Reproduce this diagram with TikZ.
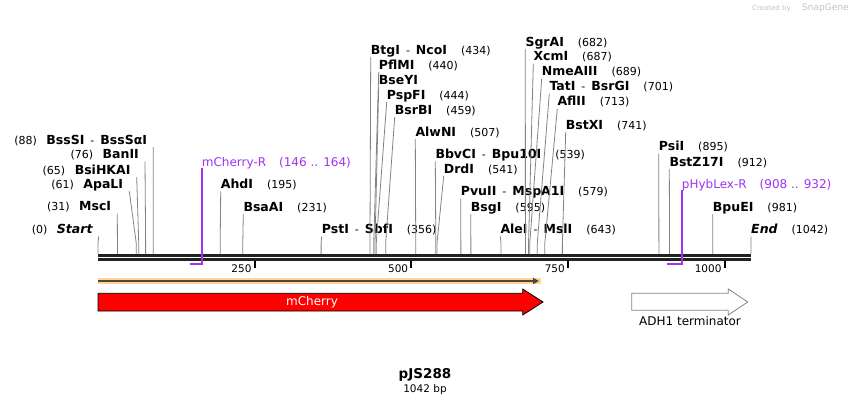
\documentclass[tikz,border=0pt]{standalone}
\usepackage{fontspec}
\setmainfont{DejaVu Sans}
\usetikzlibrary{calc,arrows.meta}

\definecolor{cutgray}{RGB}{130,130,130}
\definecolor{primerpurple}{RGB}{160,50,240}
\definecolor{bbone}{RGB}{34,34,34}
\definecolor{orfband}{RGB}{253,214,150}
\definecolor{orfline}{RGB}{80,70,60}
\definecolor{marklight}{RGB}{195,195,195}

\newcommand{\enzn}[1]{{\fontsize{12.5}{13}\selectfont\bfseries #1}}
\newcommand{\gp}{\hspace{14pt}}
\newcommand{\gl}{\hspace{9.5pt}}
\newcommand{\dsh}{\hspace{6pt}-\hspace{6pt}}

\tikzset{
  enz/.style={font=\fontsize{11}{12}\selectfont, inner sep=0pt, anchor=base west},
  cut/.style={draw=cutgray, line width=0.8pt},
  primer/.style={font=\fontsize{12}{12}\selectfont, text=primerpurple, inner sep=0pt, anchor=base west},
  primerline/.style={draw=primerpurple, line width=1.7pt},
  bb/.style={draw=bbone, line width=2.7pt},
  tick/.style={draw=black, line width=2pt},
  ticklab/.style={font=\fontsize{10.5}{11}\selectfont, inner sep=0pt, anchor=base east},
  featlab/.style={font=\fontsize{12}{12}\selectfont, inner sep=0pt}
}

\begin{document}
\begin{tikzpicture}[x=1pt,y=-1pt]
\useasboundingbox (0,0) rectangle (850,404);

% backbone
\draw[bb] (98,255.3) -- (751,255.3);
\draw[bb] (98,259.3) -- (751,259.3);
\foreach \t in {250,500,750,1000} {
  \coordinate (t\t) at ({98+0.6267*\t},261);
  \draw[tick] (t\t) -- ++(0,7);
  \node[ticklab] (tl\t) at ($(t\t)+(-3,11)$) {\t};
}

% sites, labels on the right of their line
\foreach \nm/\bp/\lx/\ly/\lab in {
  ahd/195/220.7/188.3/{\enzn{AhdI}\gp(195)},
  bsaa/231/243.3/211/{\enzn{BsaAI}\gp(231)},
  pst/356/321.7/233.3/{\enzn{PstI}\dsh\enzn{SbfI}\gp(356)},
  btg/434/370.7/54/{\enzn{BtgI}\dsh\enzn{NcoI}\gp(434)},
  pflm/440/378.7/69/{\enzn{PflMI}\gp(440)},
  bsey/442/378.7/84/{\enzn{BseYI}},
  pspf/444/386.7/99/{\enzn{PspFI}\gp(444)},
  bsrb/459/394.7/114/{\enzn{BsrBI}\gp(459)},
  alwn/507/415.3/136/{\enzn{AlwNI}\gp(507)},
  bbvc/539/435.3/158.3/{\enzn{BbvCI}\dsh\enzn{Bpu10I}\gp(539)},
  drd/541/443.7/173/{\enzn{DrdI}\gp(541)},
  pvu/579/460.7/195.7/{\enzn{PvuII}\dsh\enzn{MspA1I}\gp(579)},
  bsg/595/470.7/211/{\enzn{BsgI}\gp(595)},
  ale/643/500.3/233.3/{\enzn{AleI}\dsh\enzn{MslI}\gp(643)},
  sgra/682/525.3/46/{\enzn{SgrAI}\gp(682)},
  xcm/687/533.3/60.7/{\enzn{XcmI}\gp(687)},
  nmea/689/541.7/75.7/{\enzn{NmeAIII}\gp(689)},
  tat/701/549.3/90.7/{\enzn{TatI}\dsh\enzn{BsrGI}\gp(701)},
  afl/713/557.3/105.7/{\enzn{AflII}\gp(713)},
  bstx/741/565.7/129/{\enzn{BstXI}\gp(741)},
  psi/895/658.7/150.5/{\enzn{PsiI}\gp(895)},
  bstz/912/669.3/166/{\enzn{BstZ17I}\gp(912)},
  bpue/981/712.7/211/{\enzn{BpuEI}\gp(981)},
  fin/1042/751/233.3/{\enzn{\itshape End}\gp(1042)}} {
  \node[enz] (\nm) at (\lx,\ly) {\lab};
  \coordinate (\nm-p) at ({98+0.6267*\bp},254);
  \draw[cut] ($(\nm.base west)+(0,3)$) -- ($(\nm-p)+(0,-11)$) -- (\nm-p);
}

% sites, labels on the left of their line
\foreach \nm/\bp/\lx/\ly/\lab in {
  start/0/98.7/233.3/{(0)\gl\enzn{\itshape Start}},
  msc/31/117.3/210.7/{(31)\gl\enzn{MscI}},
  apal/61/129.3/188.3/{(61)\gl\enzn{ApaLI}},
  bsihk/65/136.7/174/{(65)\gl\enzn{BsiHKAI}},
  ban/76/145/158.3/{(76)\gl\enzn{BanII}},
  bsss/88/153.3/144/{(88)\gl\enzn{BssSI}\dsh\enzn{BssSαI}}} {
  \node[enz, anchor=base east] (\nm) at ({\lx-6},\ly) {\lab};
  \coordinate (\nm-p) at ({98+0.6267*\bp},254);
  \draw[cut] ($(\nm.base east)+(6,3)$) -- ($(\nm-p)+(0,-11)$) -- (\nm-p);
}

% primers
\node[primer] (mchR) at (201.7,166) {mCherry-R\hspace{13pt}(146 .. 164)};
\coordinate (mchR-a) at ({98+0.6267*146},264);
\draw[primerline] ($(mchR.base west)+(0,2)$) |- (mchR-a);
\node[primer] (hybR) at (681.7,188.3) {pHybLex-R\hspace{13pt}(908 .. 932)};
\coordinate (hybR-a) at ({98+0.6267*908},264);
\draw[primerline] ($(hybR.base west)+(0,2)$) |- (hybR-a);

% features
\draw[orfband, line width=6pt] (98,281) -- (541,281);
\draw[orfline, line width=1.4pt, -{Triangle[length=6pt,width=6pt]}] (98,281) -- (539,281);
\draw[fill=red, draw=black, line width=0.8pt] (98,293.3) -- (522.7,293.3) -- (522.7,289)
  -- (543,302) -- (522.7,315) -- (522.7,311) -- (98,311) -- cycle;
\node[featlab, text=white] (mch) at (312,302) {mCherry};
\draw[fill=white, draw=cutgray, line width=0.8pt] (631.7,293.3) -- (728.3,293.3) -- (728.3,289)
  -- (747.7,302) -- (728.3,315) -- (728.3,310.3) -- (631.7,310.3) -- cycle;
\node[featlab, anchor=base] (adh) at (690,325.7) {ADH1 terminator};

% title
\node[inner sep=0pt, anchor=base, font=\fontsize{13.5}{14}\selectfont\bfseries] (ttl) at (425,378) {pJS288};
\node[inner sep=0pt, anchor=base, font=\fontsize{10.5}{11}\selectfont] (len) at (425,392) {1042 bp};

% watermark
\node[inner sep=0pt, anchor=base west, text=marklight, font=\fontsize{7}{7}\selectfont] (crt) at (752,11) {Created by};
\node[inner sep=0pt, anchor=base west, text=marklight, font=\fontsize{9}{9}\selectfont] (sg) at (802,11) {SnapGene};
\end{tikzpicture}
\end{document}
